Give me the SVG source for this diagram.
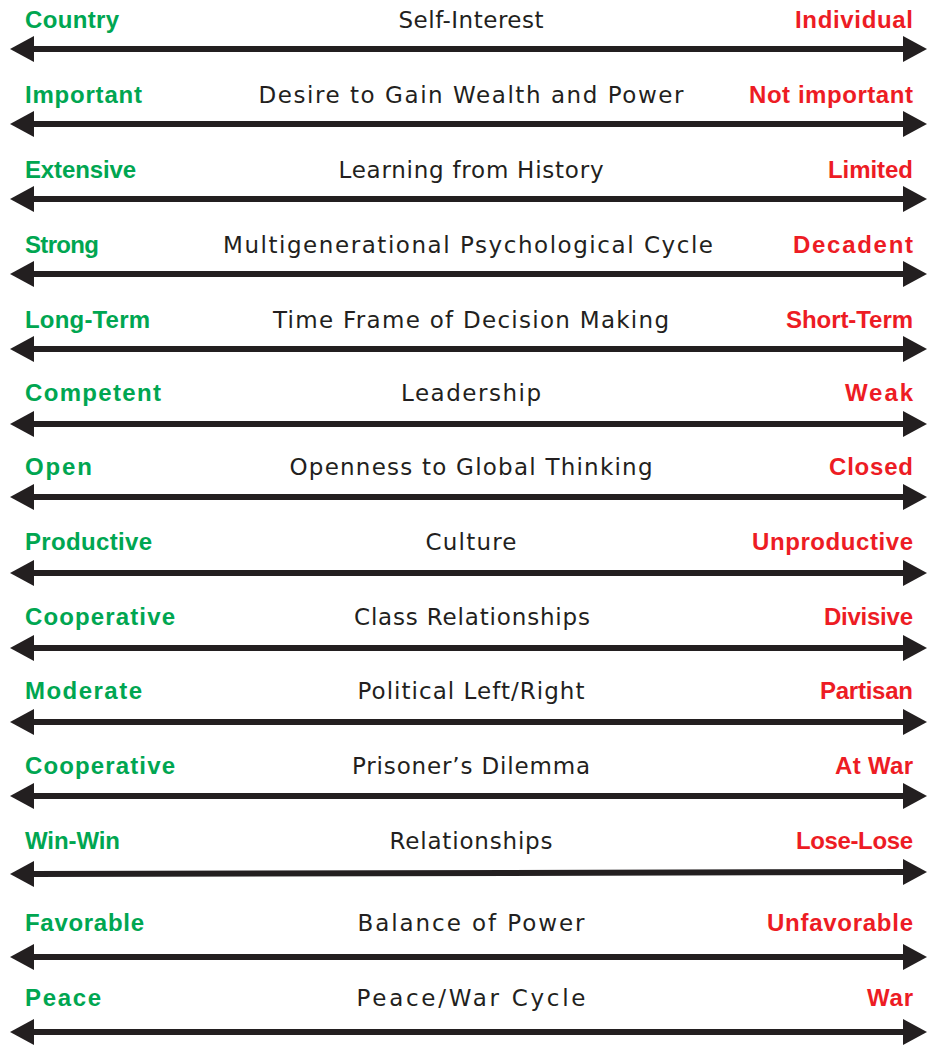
<svg xmlns="http://www.w3.org/2000/svg" xmlns:xlink="http://www.w3.org/1999/xlink" width="927" height="1045" viewBox="0 0 927 1045">
<style>
text{font-family:"Liberation Sans",Arial,sans-serif;font-size:24px}
.l{fill:#00a651;font-weight:bold;text-anchor:start}
.r{fill:#ed1c24;font-weight:bold;text-anchor:end}
.c{fill:#231f20;text-anchor:middle;font-family:"DejaVu Sans","Liberation Sans",sans-serif;font-size:23px}
.a{stroke:#231f20;stroke-width:6;fill:none;marker-start:url(#h);marker-end:url(#h)}
</style>
<defs>
<marker id="h" markerUnits="userSpaceOnUse" markerWidth="24" markerHeight="28" viewBox="0 0 24 28" refX="2" refY="14" orient="auto-start-reverse">
<path d="M0,1 L24,14 L0,27 Z" fill="#231f20"/>
</marker>
</defs>
<rect width="927" height="1045" fill="#ffffff"/>
<g id="connectors">
<path class="a" d="M32,49 H905"/>
<path class="a" d="M32,124 H905"/>
<path class="a" d="M32,199 H905"/>
<path class="a" d="M32,274 H905"/>
<path class="a" d="M32,349 H905"/>
<path class="a" d="M32,424 H905"/>
<path class="a" d="M32,497 H905"/>
<path class="a" d="M32,573 H905"/>
<path class="a" d="M32,648 H905"/>
<path class="a" d="M32,722 H905"/>
<path class="a" d="M32,796 H905"/>
<path class="a" d="M32,874 L905,872"/>
<path class="a" d="M32,957 H905"/>
<path class="a" d="M32,1032 H905"/>
</g>
<g id="row1"><text class="l" x="25" y="28" textLength="94">Country</text><text class="c" x="471" y="28" textLength="145">Self-Interest</text><text class="r" x="913" y="28" textLength="118">Individual</text></g>
<g id="row2"><text class="l" x="25" y="103" textLength="117">Important</text><text class="c" x="471" y="103" textLength="425">Desire to Gain Wealth and Power</text><text class="r" x="913" y="103" textLength="164">Not important</text></g>
<g id="row3"><text class="l" x="25" y="178" textLength="111">Extensive</text><text class="c" x="471" y="178" textLength="265">Learning from History</text><text class="r" x="913" y="178" textLength="85">Limited</text></g>
<g id="row4"><text class="l" x="25" y="253" textLength="74">Strong</text><text class="c" x="468" y="253" textLength="490">Multigenerational Psychological Cycle</text><text class="r" x="913" y="253" textLength="120">Decadent</text></g>
<g id="row5"><text class="l" x="25" y="328" textLength="125">Long-Term</text><text class="c" x="471" y="328" textLength="396">Time Frame of Decision Making</text><text class="r" x="913" y="328" textLength="127">Short-Term</text></g>
<g id="row6"><text class="l" x="25" y="401" textLength="136">Competent</text><text class="c" x="471" y="401" textLength="140">Leadership</text><text class="r" x="913" y="401" textLength="68">Weak</text></g>
<g id="row7"><text class="l" x="25" y="475" textLength="67">Open</text><text class="c" x="471" y="475" textLength="363">Openness to Global Thinking</text><text class="r" x="913" y="475" textLength="84">Closed</text></g>
<g id="row8"><text class="l" x="25" y="550" textLength="127">Productive</text><text class="c" x="471" y="550" textLength="91">Culture</text><text class="r" x="913" y="550" textLength="161">Unproductive</text></g>
<g id="row9"><text class="l" x="25" y="625" textLength="150">Cooperative</text><text class="c" x="472" y="625" textLength="236">Class Relationships</text><text class="r" x="913" y="625" textLength="89">Divisive</text></g>
<g id="row10"><text class="l" x="25" y="699" textLength="117">Moderate</text><text class="c" x="471" y="699" textLength="227">Political Left/Right</text><text class="r" x="913" y="699" textLength="93">Partisan</text></g>
<g id="row11"><text class="l" x="25" y="774" textLength="150">Cooperative</text><text class="c" x="471" y="774" textLength="238">Prisoner’s Dilemma</text><text class="r" x="913" y="774" textLength="78">At War</text></g>
<g id="row12"><text class="l" x="25" y="849" textLength="95">Win-Win</text><text class="c" x="471" y="849" textLength="163">Relationships</text><text class="r" x="913" y="849" textLength="117">Lose-Lose</text></g>
<g id="row13"><text class="l" x="25" y="931" textLength="119">Favorable</text><text class="c" x="471" y="931" textLength="227">Balance of Power</text><text class="r" x="913" y="931" textLength="146">Unfavorable</text></g>
<g id="row14"><text class="l" x="25" y="1006" textLength="76">Peace</text><text class="c" x="471" y="1006" textLength="229">Peace/War Cycle</text><text class="r" x="913" y="1006" textLength="46">War</text></g>
</svg>
